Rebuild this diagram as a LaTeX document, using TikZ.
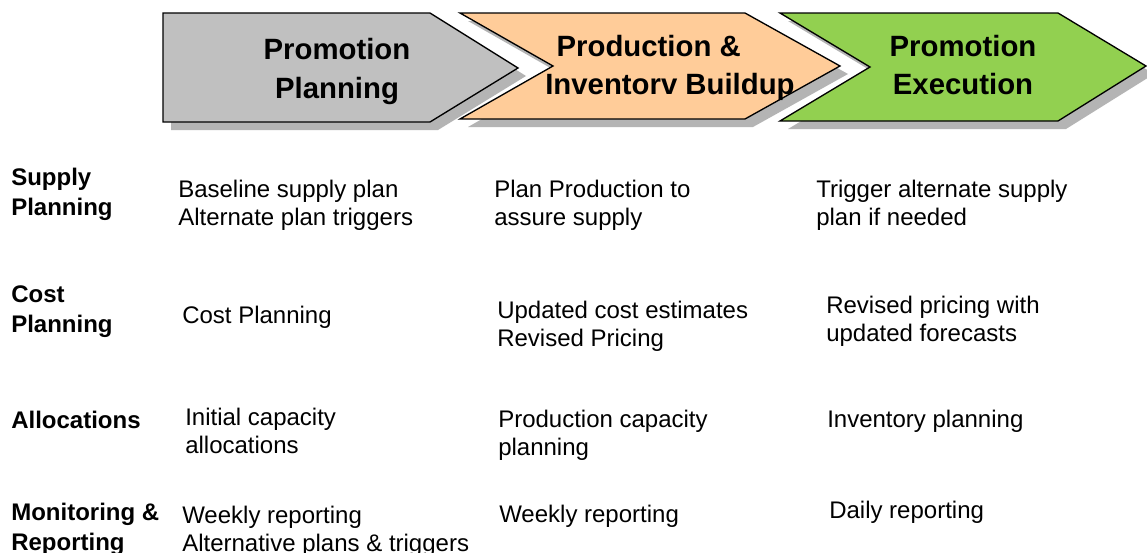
\documentclass[tikz,border=0pt]{standalone}
\usepackage{fontspec}
\setmainfont{Liberation Sans}
\definecolor{phasegray}{HTML}{C0C0C0}
\definecolor{phaseorange}{HTML}{FFCC99}
\definecolor{phasegreen}{HTML}{92D050}
\definecolor{shadowgray}{HTML}{B4B4B4}
\begin{document}
\begin{tikzpicture}[x=0.75pt,y=-0.75pt,
  chevron/.style={draw=black,line width=1pt,line join=miter},
  shadow/.style={fill=shadowgray,draw=none},
  phase/.style={font=\fontsize{22}{28.5}\selectfont\bfseries,align=center,anchor=base,inner sep=0pt},
  rowlabel/.style={font=\fontsize{18}{22.5}\selectfont\bfseries,align=left,anchor=base west,inner sep=0pt},
  cell/.style={font=\fontsize{18}{21}\selectfont,align=left,anchor=base west,inner sep=0pt}]
\useasboundingbox (0,0) rectangle (1147,553);
\fill[white] (0,0) rectangle (1147,553);

% phase chevrons, each with a drop shadow
\fill[shadow,shift={(8,8)}] (163,13) -- (430,13) -- (518,68) -- (430,122) -- (163,122) -- cycle;
\filldraw[chevron,fill=phasegray] (163,13) -- (430,13) -- (518,68) -- (430,122) -- (163,122) -- cycle;

\fill[shadow,shift={(8,8)}] (460,13) -- (745,13) -- (840,66) -- (745,119) -- (460,119) -- (553,66) -- cycle;
\filldraw[chevron,fill=phaseorange] (460,13) -- (745,13) -- (840,66) -- (745,119) -- (460,119) -- (553,66) -- cycle;

\fill[shadow,shift={(8,8)}] (780,13) -- (1058,13) -- (1146,66) -- (1058,121) -- (780,121) -- (870,67) -- cycle;
\filldraw[chevron,fill=phasegreen] (780,13) -- (1058,13) -- (1146,66) -- (1058,121) -- (780,121) -- (870,67) -- cycle;

% phase titles (positions are the baselines of the last lines)
\node[phase] (ph1) at (337,98) {Promotion\\Planning};
\node[phase] (ph2) at (670,94) {Production \&\rule{1.45em}{0pt}\\Inventorv Buildup};
\node[phase] (ph3) at (963,94) {Promotion\\Execution};

% row labels
\node[rowlabel] (r1) at (11,215) {Supply\\Planning};
\node[rowlabel] (r2) at (11,332) {Cost\\Planning};
\node[rowlabel] (r3) at (11,428) {Allocations};
\node[rowlabel] (r4) at (11,550) {Monitoring \&\\Reporting};

% supply planning
\node[cell] (c11) at (178,225) {Baseline supply plan\\Alternate plan triggers};
\node[cell] (c12) at (494,225) {Plan Production to\\assure supply};
\node[cell] (c13) at (816,225) {Trigger alternate supply\\plan if needed};

% cost planning
\node[cell] (c21) at (182,323) {Cost Planning};
\node[cell] (c22) at (497,346) {Updated cost estimates\\Revised Pricing};
\node[cell] (c23) at (826,341) {Revised pricing with\\updated forecasts};

% allocations
\node[cell] (c31) at (185,453) {Initial capacity\\allocations};
\node[cell] (c32) at (498,455) {Production capacity\\planning};
\node[cell] (c33) at (827,427) {Inventory planning};

% monitoring and reporting
\node[cell] (c41) at (182,551) {Weekly reporting\\Alternative plans \& triggers};
\node[cell] (c42) at (499,522) {Weekly reporting};
\node[cell] (c43) at (829,518) {Daily reporting};
\end{tikzpicture}
\end{document}
